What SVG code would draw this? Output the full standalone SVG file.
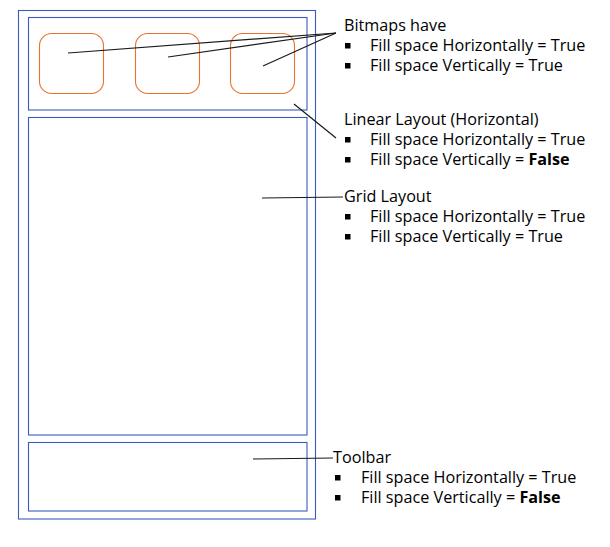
<svg xmlns="http://www.w3.org/2000/svg" width="610" height="547" viewBox="0 0 610 547">
<style>
.box{fill:none;stroke:#3a5bbd;stroke-width:1.1}
.bmp{fill:none;stroke:#e8722e;stroke-width:1.1}
.ln{stroke:#1a1a1a;stroke-width:1.2;fill:none}
text{font-family:"Open Sans",Lato,"Noto Sans",sans-serif;font-size:16.2px;fill:#000}
.b{font-weight:bold}
.bul{fill:#000}
</style>
<rect width="610" height="547" fill="#fff"/>
<g id="screen"><rect class="box" x="18.5" y="10.5" width="297" height="508.5"/></g>
<g id="linear-layout"><rect class="box" x="28.5" y="17.5" width="278.5" height="92.5"/></g>
<g id="bitmap1"><rect class="bmp" x="39.5" y="33.5" width="64" height="60" rx="12"/></g>
<g id="bitmap2"><rect class="bmp" x="135.5" y="33.5" width="64" height="60" rx="12"/></g>
<g id="bitmap3"><rect class="bmp" x="230.5" y="33.5" width="64" height="60" rx="12"/></g>
<g id="grid-layout"><rect class="box" x="28.5" y="117.5" width="278.5" height="317.5"/></g>
<g id="toolbar"><rect class="box" x="28.5" y="442.5" width="278.5" height="68.5"/></g>
<g id="connectors">
<line class="ln" x1="68" y1="53" x2="336" y2="33"/>
<line class="ln" x1="168" y1="57" x2="336" y2="33"/>
<line class="ln" x1="263" y1="66" x2="336" y2="33"/>
<line class="ln" x1="294" y1="104" x2="336" y2="138"/>
<line class="ln" x1="262" y1="198" x2="343" y2="197" stroke="#444"/>
<line class="ln" x1="253" y1="459" x2="333" y2="458" stroke="#444"/>
</g>
<g id="label-bitmaps">
<text x="344" y="31">Bitmaps have</text>
<rect class="bul" x="345" y="43" width="5.5" height="5.5"/>
<text x="370" y="51">Fill space Horizontally = True</text>
<rect class="bul" x="345" y="63" width="5.5" height="5.5"/>
<text x="370" y="71">Fill space Vertically = True</text>
</g>
<g id="label-linear">
<text x="344" y="125">Linear Layout (Horizontal)</text>
<rect class="bul" x="345" y="137" width="5.5" height="5.5"/>
<text x="370" y="145">Fill space Horizontally = True</text>
<rect class="bul" x="345" y="157" width="5.5" height="5.5"/>
<text x="370" y="165">Fill space Vertically = <tspan class="b">False</tspan></text>
</g>
<g id="label-grid">
<text x="344" y="202">Grid Layout</text>
<rect class="bul" x="345" y="214" width="5.5" height="5.5"/>
<text x="370" y="222">Fill space Horizontally = True</text>
<rect class="bul" x="345" y="234" width="5.5" height="5.5"/>
<text x="370" y="242">Fill space Vertically = True</text>
</g>
<g id="label-toolbar">
<text x="333" y="463">Toolbar</text>
<rect class="bul" x="335" y="475" width="5.5" height="5.5"/>
<text x="361" y="483">Fill space Horizontally = True</text>
<rect class="bul" x="335" y="495" width="5.5" height="5.5"/>
<text x="361" y="503">Fill space Vertically = <tspan class="b">False</tspan></text>
</g>
</svg>
